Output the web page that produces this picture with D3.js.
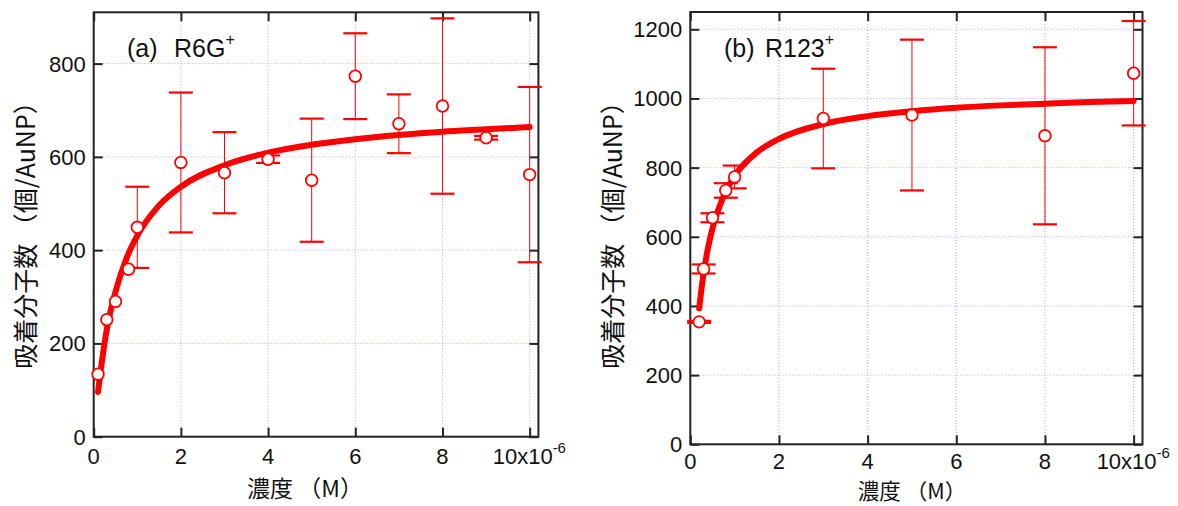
<!DOCTYPE html>
<html lang="ja">
<head>
<meta charset="UTF-8">
<title>吸着分子数</title>
<script src="https://cdn.jsdelivr.net/npm/d3@7"></script>
<style>
  body { margin: 0; background: #fff; }
  svg { display: block; }
</style>
</head>
<body>
<div id="chart"></div>
<script>
// concentration in units of 1e-6 M
var xTicks = [0, 2, 4, 6, 8, 10];

// (a) R6G+
var r6gConc  = [0.1, 0.3, 0.5, 0.8, 1, 2, 3, 4, 5, 6, 7, 8, 9, 10];
var r6gCount = [134, 251, 290, 359, 449, 588, 566, 595, 550, 773, 671, 709, 641, 562];
var r6gErr   = [null, null, null, null, 87, 150, 87, 8, 132, 92, 63, 188, 4, 188];
var r6gFitConc  = [0.1, 0.2, 0.3, 0.5, 0.75, 1, 1.5, 2, 3, 4, 5, 6, 7, 8, 9, 10];
var r6gFitCount = [96, 169, 230, 311, 382, 431, 496, 536, 582, 609, 626, 638, 647, 654, 659, 664];
var r6gYTicks = [0, 200, 400, 600, 800];

// (b) R123+
var r123Conc  = [0.2, 0.3, 0.5, 0.8, 1, 3, 5, 8, 10];
var r123Count = [354, 507, 655, 734, 773, 942, 952, 892, 1073];
var r123Err   = [3, 13, 13, 21, 33, 144, 218, 256, 151];
var r123FitConc  = [0.2, 0.3, 0.4, 0.5, 0.75, 1, 1.5, 2, 3, 4, 5, 6, 7, 8, 9, 10];
var r123FitCount = [393, 495, 568, 624, 717, 776, 844, 883, 926, 949, 963, 973, 980, 985, 990, 993];
var r123YTicks = [0, 200, 400, 600, 800, 1000, 1200];

var W = 1178, H = 506;
var red = "#ff0000";
var tickFont = "'Liberation Sans', Arial, sans-serif";
var cjkFont = "'Noto Sans CJK JP', 'Liberation Sans', sans-serif";

var svg = d3.select("#chart").append("svg")
  .attr("width", W).attr("height", H);

function drawPanel(p) {
  var x = d3.scaleLinear().domain([0, 10.2]).range([p.left, p.right]);
  var y = d3.scaleLinear().domain([0, p.yMax]).range([p.bottom, p.top]);
  var g = svg.append("g");

  // grid
  g.selectAll(".gx").data(xTicks.filter(function(d) { return d > 0; }))
    .enter().append("line")
    .attr("x1", function(d) { return x(d); }).attr("x2", function(d) { return x(d); })
    .attr("y1", p.top).attr("y2", p.bottom)
    .attr("stroke", "#a8a8ff").attr("stroke-width", 1).attr("stroke-dasharray", "1,2");
  g.selectAll(".gy").data(p.yTicks.filter(function(d) { return d > 0; }))
    .enter().append("line")
    .attr("y1", function(d) { return y(d); }).attr("y2", function(d) { return y(d); })
    .attr("x1", p.left).attr("x2", p.right)
    .attr("stroke", "#a8a8ff").attr("stroke-width", 1).attr("stroke-dasharray", "1,2");

  // axes, ticks pointing inward on all four sides
  var tl = 9;
  g.append("g").attr("transform", "translate(0," + p.bottom + ")")
    .call(d3.axisBottom(x).tickValues(xTicks).tickSize(-tl).tickFormat(""));
  g.append("g").attr("transform", "translate(0," + p.top + ")")
    .call(d3.axisTop(x).tickValues(xTicks).tickSize(-tl).tickFormat(""));
  g.append("g").attr("transform", "translate(" + p.left + ",0)")
    .call(d3.axisLeft(y).tickValues(p.yTicks).tickSize(-tl).tickFormat(""));
  g.append("g").attr("transform", "translate(" + p.right + ",0)")
    .call(d3.axisRight(y).tickValues(p.yTicks).tickSize(-tl).tickFormat(""));
  g.selectAll(".domain").remove();
  g.selectAll(".tick line").attr("stroke", "#222").attr("stroke-width", 2);

  // frame
  g.append("rect")
    .attr("x", p.left).attr("y", p.top)
    .attr("width", p.right - p.left).attr("height", p.bottom - p.top)
    .attr("fill", "none").attr("stroke", "#222").attr("stroke-width", 2);

  // tick labels
  g.selectAll(".ylab").data(p.yTicks).enter().append("text")
    .attr("x", p.left - 8).attr("y", function(d) { return y(d); })
    .attr("dy", "0.36em").attr("text-anchor", "end")
    .attr("font-family", tickFont).attr("font-size", 22).attr("fill", "#111")
    .text(function(d) { return d; });
  g.selectAll(".xlab").data(xTicks.slice(0, -1)).enter().append("text")
    .attr("x", function(d) { return x(d); }).attr("y", p.bottom + p.xLabGap)
    .attr("text-anchor", "middle")
    .attr("font-family", tickFont).attr("font-size", 22).attr("fill", "#111")
    .text(function(d) { return d; });
  var last = g.append("text")
    .attr("x", x(10) - 37).attr("y", p.bottom + p.xLabGap)
    .attr("font-family", tickFont).attr("font-size", 22).attr("fill", "#111");
  last.append("tspan").text("10x10");
  last.append("tspan").attr("font-size", 15).attr("dy", -11).text("-6");

  // axis titles
  g.append("text")
    .attr("x", p.xTitleX).attr("y", p.xTitleY).attr("text-anchor", "middle")
    .attr("font-family", cjkFont).attr("font-size", p.xTitleSize).attr("fill", "#111")
    .text("濃度 （M）");
  g.append("text")
    .attr("transform", "translate(" + p.yTitleX + "," + p.yTitleY + ") rotate(-90)")
    .attr("text-anchor", "middle").attr("dy", "0.35em")
    .attr("font-family", cjkFont).attr("font-size", 25).attr("fill", "#111")
    .text("吸着分子数 （個/AuNP）");

  // panel label
  var lab = g.append("text")
    .attr("y", 57).attr("font-family", tickFont).attr("font-size", 25).attr("fill", "#111");
  lab.append("tspan").attr("x", p.labX).text(p.labA);
  lab.append("tspan").attr("x", p.labX2).text(p.labB);
  lab.append("tspan").attr("font-size", 16).attr("dy", -12).text("+");

  // error bars
  var pts = p.conc.map(function(c, i) { return { c: c, v: p.count[i], e: p.err[i] }; });
  var eb = pts.filter(function(d) { return d.e != null; });
  var cw = 12;
  g.selectAll(".ev").data(eb).enter().append("line")
    .attr("x1", function(d) { return x(d.c); }).attr("x2", function(d) { return x(d.c); })
    .attr("y1", function(d) { return y(d.v - d.e); }).attr("y2", function(d) { return y(d.v + d.e); })
    .attr("stroke", red).attr("stroke-width", 1);
  [-1, 1].forEach(function(s) {
    g.selectAll(".ec" + s).data(eb).enter().append("line")
      .attr("x1", function(d) { return x(d.c) - cw; }).attr("x2", function(d) { return x(d.c) + cw; })
      .attr("y1", function(d) { return y(d.v + s * d.e); }).attr("y2", function(d) { return y(d.v + s * d.e); })
      .attr("stroke", red).attr("stroke-width", 2.2);
  });

  // fit curve
  var line = d3.line()
    .x(function(d, i) { return x(p.fitConc[i]); })
    .y(function(d) { return y(d); })
    .curve(d3.curveMonotoneX);
  g.append("path").datum(p.fitCount)
    .attr("d", line).attr("fill", "none")
    .attr("stroke", red).attr("stroke-width", 6).attr("stroke-linecap", "round");

  // markers
  g.selectAll(".pt").data(pts).enter().append("circle")
    .attr("cx", function(d) { return x(d.c); }).attr("cy", function(d) { return y(d.v); })
    .attr("r", 5.8).attr("fill", "#fff").attr("stroke", red).attr("stroke-width", 1.8);
}

drawPanel({
  left: 93.7, right: 538.4, top: 12.3, bottom: 436.7, yMax: 910,
  yTicks: r6gYTicks, conc: r6gConc, count: r6gCount, err: r6gErr,
  fitConc: r6gFitConc, fitCount: r6gFitCount, xLabGap: 27,
  xTitleX: 305, xTitleY: 497, xTitleSize: 23, yTitleX: 26, yTitleY: 229,
  labX: 127, labX2: 174, labA: "(a)", labB: "R6G"
});

drawPanel({
  left: 690.3, right: 1142.5, top: 12, bottom: 444.3, yMax: 1250,
  yTicks: r123YTicks, conc: r123Conc, count: r123Count, err: r123Err,
  fitConc: r123FitConc, fitCount: r123FitCount, xLabGap: 25,
  xTitleX: 912, xTitleY: 499.3, xTitleSize: 21.5, yTitleX: 613, yTitleY: 229,
  labX: 724, labX2: 765, labA: "(b)", labB: "R123"
});
</script>
</body>
</html>
